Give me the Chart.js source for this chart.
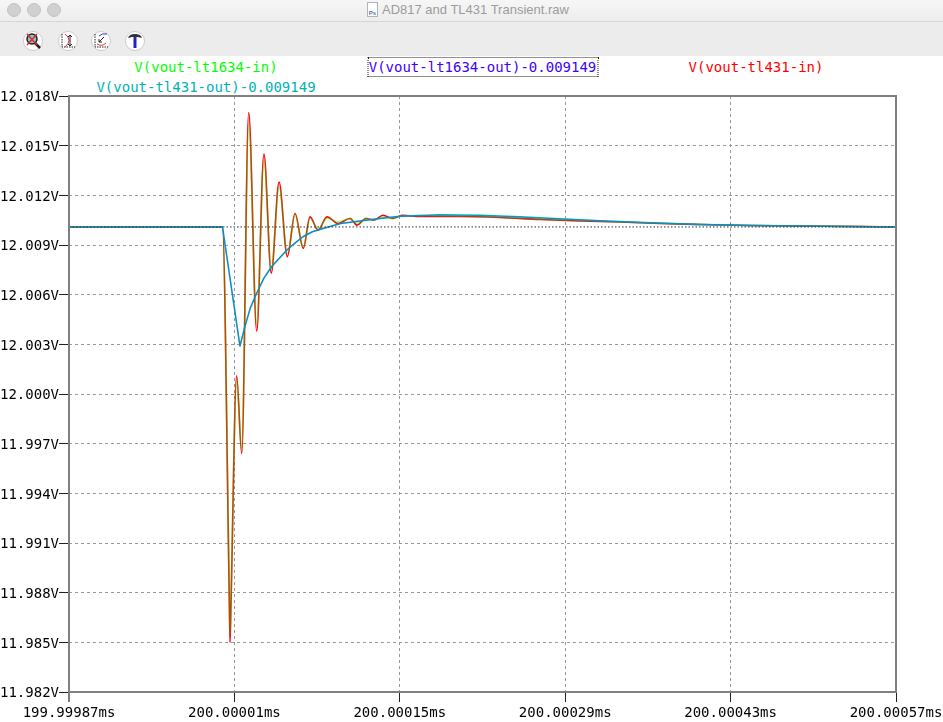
<!DOCTYPE html>
<html><head><meta charset="utf-8">
<script src="https://cdn.jsdelivr.net/npm/chart.js@4/dist/chart.umd.min.js"></script>
<style>
html,body{margin:0;padding:0;background:#fff;width:943px;height:722px;overflow:hidden}
#bar{position:absolute;left:0;top:0;width:943px;height:21px;background:linear-gradient(#f6f6f6,#ededed);border-bottom:1px solid #d6d6d6}
#tools{position:absolute;left:0;top:22px;width:943px;height:34px;background:#ececec}
.dot{position:absolute;top:3px;width:12px;height:12px;border-radius:50%;background:#d0d0d0;border:.5px solid #c4c4c4}
#title{position:absolute;left:382px;top:2px;font:13px "Liberation Sans",sans-serif;color:#9c9c9c;white-space:nowrap}
#doc{position:absolute;left:367px;top:2px;width:9px;height:13px;background:#fff;border:1px solid #b4b4b4;font:bold 6px "Liberation Sans";color:#4a78b0;line-height:20px;text-align:center;overflow:hidden}
.ic{position:absolute;top:31px}
.lg{position:absolute;font:14px "DejaVu Sans Mono",monospace;white-space:nowrap;transform:translateX(-50%);line-height:20px}
#wrap{position:absolute;left:0;top:56px;width:943px;height:666px}
</style></head><body>
<div id="bar"></div><div id="tools"></div>
<div class="dot" style="left:7px"></div><div class="dot" style="left:27px"></div><div class="dot" style="left:47px"></div>
<div id="doc">Ps</div><div id="title">AD817 and TL431 Transient.raw</div>
<svg class="ic" style="left:23px" width="20" height="20"><circle cx="10" cy="10" r="9.5" fill="#fff" stroke="#ccc"/><circle cx="9" cy="8" r="5" fill="#7cc" stroke="#222" stroke-width="1.5"/><path d="M12 12l5 5" stroke="#222" stroke-width="2.5"/><path d="M4 3l10 11M14 3L4 14" stroke="#e22" stroke-width="1.5"/></svg>
<svg class="ic" style="left:58px" width="20" height="20"><circle cx="10" cy="10" r="9.5" fill="#fff" stroke="#ccc"/><path d="M4 3v13h13" fill="none" stroke="#222" stroke-dasharray="1.5 1"/><path d="M7 3q8 6 0 13" fill="none" stroke="#d33"/><path d="M12 4v11M10 6l2-2 2 2M10 13l2 2 2-2" fill="none" stroke="#222"/></svg>
<svg class="ic" style="left:91px" width="20" height="20"><circle cx="10" cy="10" r="9.5" fill="#fff" stroke="#ccc"/><path d="M4 3v13h13" fill="none" stroke="#222" stroke-dasharray="1.5 1"/><path d="M8 5q3-3 8-2" fill="none" stroke="#33c"/><path d="M6 13q5 3 9-1" fill="none" stroke="#d33"/><path d="M13 6l-5 5M8 8v3h3" fill="none" stroke="#222"/></svg>
<svg class="ic" style="left:125px" width="20" height="20"><circle cx="10" cy="10" r="9.5" fill="#fff" stroke="#ccc"/><path d="M3 7q1-4 7-4t7 4l-4-1H7z" fill="#333"/><rect x="8.5" y="6" width="3" height="11" fill="#22c"/></svg>
<div class="lg" style="left:206px;top:57px;color:#00ff00">V(vout-lt1634-in)</div>
<div class="lg" style="left:482.5px;top:57px;color:#4000ff;outline:1px dotted #222;padding:0 1px;outline-offset:-1px;width:229px;text-align:center">V(vout-lt1634-out)-0.009149</div>
<div class="lg" style="left:756px;top:57px;color:#ff0000">V(vout-tl431-in)</div>
<div class="lg" style="left:206px;top:77px;color:#00b2b2">V(vout-tl431-out)-0.009149</div>
<div id="wrap"><canvas id="c" width="943" height="666"></canvas></div>
<script>
const xTickLabels=["199.99987ms","200.00001ms","200.00015ms","200.00029ms","200.00043ms","200.00057ms"];
const xTickValues=[-130,10,150,290,430,570];
const yTickLabels=["11.982V","11.985V","11.988V","11.991V","11.994V","11.997V","12.000V","12.003V","12.006V","12.009V","12.012V","12.015V","12.018V"];
const inTimes=[-130,-0.1,5.5,6.3,7.1,11.9,16.2,22.1,28.9,35,41.2,47.8,54.8,61.3,68.3,74,80.8,88.4,97.7,107.8,113.8,121.4,128.2,135.8,144.2,151.9,167,201,234.8,268.7,302.5,336.4,370.2,404,446.4,488.7,570];
const vTl431In=[12.01009,12.01009,11.9885,11.985,11.9873,12.0011,11.9964,12.017,12.0038,12.0145,12.0073,12.0128,12.0083,12.0109,12.0088,12.0107,12.0099,12.0107,12.0103,12.0106,12.0102,12.0106,12.0105,12.0108,12.0106,12.0108,12.01072,12.01072,12.01066,12.01054,12.01045,12.01039,12.0103,12.01024,12.01018,12.01015,12.01009];
const vLt1634In=[12.01009,12.01009,11.989,11.9855,11.9877,12.0009,11.9966,12.0163,12.0042,12.0141,12.0075,12.0125,12.0085,12.0108,12.0089,12.0106,12.01,12.0106,12.0104,12.0106,12.0103,12.0106,12.0105,12.0107,12.0106,12.01075,12.01078,12.01075,12.01068,12.01057,12.01048,12.0104,12.01032,12.01025,12.01018,12.01015,12.01009];
const outTimes=[-130,-0.1,14.7,19,23.5,28.9,35,41.6,48,54.5,61,68,76,85,100,116.3,133,150.2,184,217.9,251.7,285.6,319.5,361.8,404,446.4,488.7,570];
const vLt1634Out=[12.01009,12.01009,12.0029,12.0041,12.0052,12.0061,12.007,12.0077,12.0082,12.0087,12.0091,12.0095,12.0098,12.01,12.0103,12.01045,12.0106,12.01072,12.01078,12.01075,12.01066,12.01054,12.01045,12.01033,12.01024,12.01018,12.01015,12.01009];
const vTl431Out=[12.01009,12.01009,12.0029,12.0041,12.0052,12.0061,12.007,12.0077,12.0082,12.0087,12.0091,12.0095,12.0098,12.01,12.0103,12.01045,12.0106,12.01074,12.01082,12.01079,12.0107,12.01058,12.01047,12.01034,12.01024,12.01018,12.01015,12.01009];
const refTimes=[-130,570];
const refValues=[12.01009,12.01009];

const pts=(t,v)=>t.map((x,i)=>({x:x,y:v[i]}));
const line=(label,t,v,color,order,w)=>({label,data:pts(t,v),borderColor:color,borderWidth:w||1.5,pointRadius:0,tension:0,order,borderJoinStyle:'round'});
const smooth=d=>Object.assign(d,{cubicInterpolationMode:'monotone'});
const frame={id:'frame',afterDatasetsDraw(ch){const a=ch.chartArea,g=ch.ctx;g.save();g.strokeStyle='#808080';g.lineWidth=2;g.setLineDash([]);g.strokeRect(a.left,a.top,a.right-a.left,a.bottom-a.top);g.beginPath();g.moveTo(a.left,a.bottom);g.lineTo(a.left,a.bottom+10);g.stroke();g.restore();}};
const tickFont={family:'"DejaVu Sans Mono",monospace',size:14};
const gridOpt={color:'#999',lineWidth:1,tickColor:'#222',tickLength:10,tickBorderDash:[],tickWidth:1};
new Chart(document.getElementById('c'),{
 type:'line',
 data:{datasets:[
  Object.assign(line('reference',refTimes,refValues,'#333',1,1),{borderDash:[1.5,2]}),
  line('V(vout-lt1634-out)-0.009149',outTimes,vLt1634Out,'rgba(64,0,255,0.22)',2),
  line('V(vout-tl431-out)-0.009149',outTimes,vTl431Out,'#00b2b2',3),
  smooth(line('V(vout-lt1634-in)',inTimes,vLt1634In,'rgba(0,255,0,0.33)',4,1.8)),
  smooth(line('V(vout-tl431-in)',inTimes,vTl431In,'#ff0000',5,1.6))
 ]},
 options:{
  responsive:false,animation:false,parsing:false,normalized:true,
  layout:{autoPadding:false,padding:{left:0,right:47,top:40,bottom:0}},
  plugins:{legend:{display:false},title:{display:false},tooltip:{enabled:false}},
  scales:{
   x:{type:'linear',min:-130,max:570,
    afterBuildTicks(s){s.ticks=xTickValues.map(v=>({value:v}));},
    afterFit(s){s.height=30;s.paddingLeft=0;s.paddingRight=0;},
    border:{display:false,dash:[3,3]},grid:gridOpt,
    ticks:{font:tickFont,color:'#000',maxRotation:0,autoSkip:false,padding:3,callback:(v,i)=>xTickLabels[i]}},
   y:{type:'linear',min:11.982,max:12.018,
    afterBuildTicks(s){s.ticks=yTickLabels.map(l=>({value:parseFloat(l)}));},
    afterFit(s){s.width=69;},
    border:{display:false,dash:[3,3]},grid:gridOpt,
    ticks:{font:Object.assign({},tickFont,{lineHeight:'3.4px'}),color:'#000',autoSkip:false,padding:0,callback:(v,i)=>['',yTickLabels[i]]}}
  }
 },
 plugins:[frame]
});
</script></body></html>
